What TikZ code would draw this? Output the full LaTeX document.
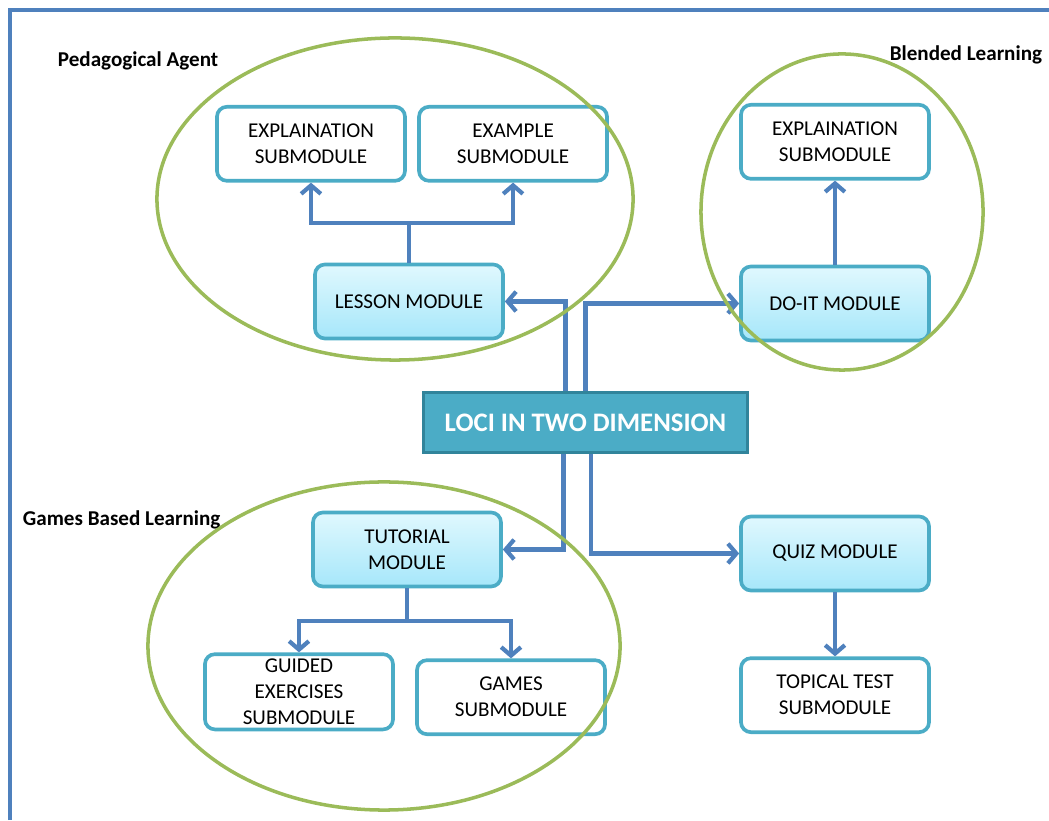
\documentclass[tikz,border=0pt]{standalone}
\usepackage{fontspec}
\setmainfont{Carlito}
\usetikzlibrary{positioning,arrows.meta,calc}
\definecolor{boxline}{HTML}{4BACC6}
\definecolor{arrowblue}{HTML}{4F81BD}
\definecolor{ringgreen}{HTML}{9BBB59}
\definecolor{topcyan}{HTML}{E0F8FE}
\definecolor{botcyan}{HTML}{A6E7FA}
\definecolor{darkteal}{HTML}{31849B}
\tikzset{
  >={Straight Barb[length=6pt,width=14pt]},
  every node/.style={font=\fontsize{15}{18.5}\selectfont},
}

\begin{document}
\begin{tikzpicture}[
  x=0.025cm,y=0.025cm,
  module/.style={draw=boxline,line width=2.6pt,rounded corners=0.25cm,
    top color=topcyan,bottom color=botcyan,
    minimum width=4.7cm,minimum height=1.85cm,align=center},
  submodule/.style={module,top color=white,bottom color=white},
  main/.style={draw=darkteal,line width=2.4pt,fill=boxline,text=white,
    font=\fontsize{19}{22}\selectfont\bfseries,
    minimum width=8.1cm,minimum height=1.5cm},
  conn/.style={->,draw=arrowblue,line width=3pt},
  ring/.style={draw=ringgreen,line width=2.5pt},
  group/.style={font=\fontsize{15}{17}\selectfont\bfseries},
]
\useasboundingbox (0,0) rectangle (1049,820);

\draw[draw=arrowblue,line width=2.4pt] (10,0) -- (10,810) -- (1049,810);

\node[main] (loci) at (585.5,397.5) {LOCI IN TWO DIMENSION};

\node[module] (lesson) at (409,518.5) {LESSON MODULE};
\node[submodule,above=2.0cm of lesson,xshift=-2.45cm] (expsubA) {EXPLAINATION\\SUBMODULE};
\node[submodule,above=2.0cm of lesson,xshift=2.6cm] (examplesub) {EXAMPLE\\SUBMODULE};

\node[module] (doit) at (835,516.5) {DO-IT MODULE};
\node[submodule,above=2.1cm of doit] (expsubB) {EXPLAINATION\\SUBMODULE};

\node[module] (tutorial) at (407,270.5) {TUTORIAL\\MODULE};
\node[submodule,below=1.6cm of tutorial,xshift=-2.7cm] (guided) {GUIDED\\EXERCISES\\SUBMODULE};
\node[submodule,below=1.75cm of tutorial,xshift=2.6cm] (games) {GAMES\\SUBMODULE};

\node[module] (quiz) at (835,266.5) {QUIZ MODULE};
\node[submodule,below=1.6cm of quiz] (topical) {TOPICAL TEST\\SUBMODULE};

\node[group,anchor=west] (pedlabel) at (53,759) {Pedagogical Agent};
\node[group,anchor=east] (blendlabel) at (1047,765) {Blended Learning};
\node[group,anchor=west] (gamelabel) at (18,300) {Games Based Learning};

\draw[conn] (lesson.north) -- ++(0,40) -| (expsubA.south);
\draw[conn] (lesson.north) -- ++(0,40) -| (examplesub.south);
\draw[conn] ([xshift=-0.5cm]loci.north) |- (lesson.east);
\draw[conn] (loci.north) |- (doit.west);
\draw[conn] (doit.north) -- (expsubB.south);
\draw[conn] ([xshift=-0.55cm]loci.south) |- (tutorial.east);
\draw[conn] ([xshift=0.14cm]loci.south) |- (quiz.west);
\draw[conn] (tutorial.south) -- ++(0,-33) -| (guided.north);
\draw[conn] (tutorial.south) -- ++(0,-33) -| (games.north);
\draw[conn] (quiz.south) -- (topical.north);

\draw[ring] (395,621) ellipse [x radius=5.95cm,y radius=4.025cm];
\draw[ring] (842,608) ellipse [x radius=3.525cm,y radius=3.95cm];
\draw[ring] (384,174) ellipse [x radius=5.9cm,y radius=4.1cm];

\end{tikzpicture}
\end{document}
